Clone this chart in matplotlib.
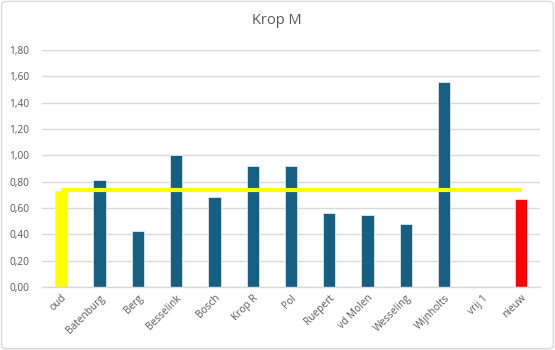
import matplotlib
matplotlib.use("Agg")
import matplotlib.pyplot as plt
from matplotlib.patches import FancyBboxPatch

categories = ["oud", "Batenburg", "Berg", "Besselink", "Bosch", "Krop R", "Pol",
              "Ruepert", "vd Molen", "Wesseling", "Wijnholts", "vrij 1", "nieuw"]
values = [0.73, 0.81, 0.425, 1.00, 0.68, 0.92, 0.92, 0.56, 0.55, 0.48, 1.56, 0.0, 0.665]
line_values = [0.735] * len(categories)
bar_colors = ["#FFFF00"] + ["#156082"] * 11 + ["#FF0000"]
yticks = [0.0, 0.2, 0.4, 0.6, 0.8, 1.0, 1.2, 1.4, 1.6, 1.8]

plt.rcParams['font.family'] = ['Open Sans', 'DejaVu Sans']

fig = plt.figure(figsize=(5.55, 3.5), dpi=100)
ax = fig.add_axes([42/555, 1-287/350, (540-42)/555, (287-50)/350])

x = list(range(len(categories)))
ax.bar(x, values, width=0.32, color=bar_colors, edgecolor="#dfe9ef", linewidth=0.6, zorder=3)
ax.plot(x, line_values, color="#FFFF00", linewidth=3, zorder=4, solid_capstyle="butt")

ax.set_xlim(-0.5, len(categories) - 0.5)
ax.set_ylim(0, 1.8)
ax.set_yticks(yticks)
ax.set_yticklabels([f"{v:.2f}".replace(".", ",") for v in yticks], fontsize=7.3, color="#595959")
ax.set_xticks(x)
ax.set_xticklabels(categories, rotation=45, ha="right", rotation_mode="anchor",
                   fontsize=7.3, color="#595959")
ax.tick_params(axis="both", length=0, pad=4)
ax.tick_params(axis="y", pad=9)
ax.grid(axis="y", color="#d9d9d9", linewidth=1, zorder=0)
for s in ["top", "right", "left"]:
    ax.spines[s].set_visible(False)
ax.spines["bottom"].set_color("#d9d9d9")
ax.spines["bottom"].set_linewidth(1)
ax.spines["bottom"].set_zorder(5)

fig.text(277/555, 1-20/350, "Krop M", ha="center", va="center", fontsize=10.5, color="#595959")

border = FancyBboxPatch((0.003, 0.004), 0.994, 0.992, boxstyle="round,pad=0,rounding_size=0.01",
                        transform=fig.transFigure, fill=False, edgecolor="#d9d9d9", linewidth=1)
fig.patches.append(border)

fig.savefig("out.png", dpi=100)
